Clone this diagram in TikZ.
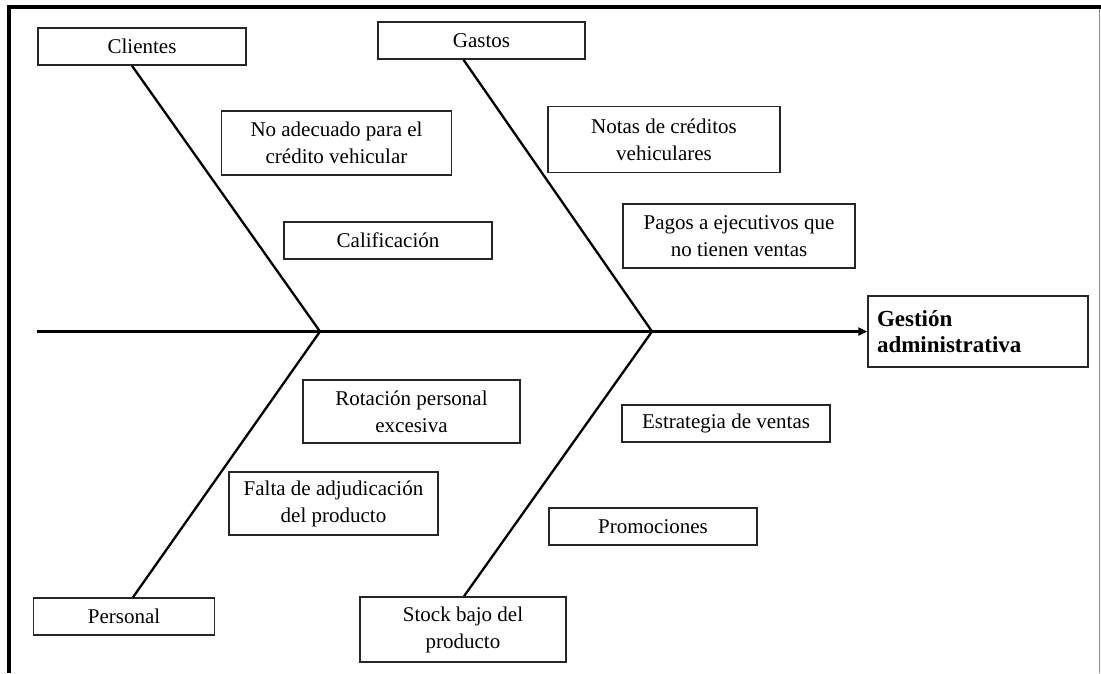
\documentclass[tikz,border=0pt]{standalone}
\usepackage{fontspec}
\setmainfont{Liberation Serif}
\usetikzlibrary{arrows.meta,calc}
\tikzset{
  causebox/.style={draw=black!85, line width=1.5pt, rectangle, align=center, inner sep=0pt,
    font=\fontsize{21}{27}\selectfont, text=black},
  bone/.style={line width=2.3pt, black},
}
\begin{document}
\begin{tikzpicture}[x=1pt,y=-1pt]
\useasboundingbox (0,0) rectangle (1101,673);
% frame
\draw[line width=4pt] (7,7) -- (1101,7);
\draw[line width=4pt] (9,7) -- (9,673);
\draw[line width=1pt, black!45] (1099.5,9) -- (1099.5,673);
% boxes
\node[causebox, minimum width=208pt, minimum height=37pt] (cli) at (142,46.5) {Clientes};
\node[causebox, minimum width=207pt, minimum height=37pt] (gas) at (481.5,40.5) {Gastos};
\node[causebox, minimum width=230pt, minimum height=64pt] (noad) at (336.5,143) {No adecuado para el\\crédito vehicular};
\node[causebox, minimum width=208pt, minimum height=37pt] (cal) at (388,240.5) {Calificación};
\node[causebox, minimum width=232pt, minimum height=66pt] (notas) at (664,139.5) {Notas de créditos\\vehiculares};
\node[causebox, minimum width=232pt, minimum height=64pt] (pagos) at (739,236) {Pagos a ejecutivos que\\no tienen ventas};
\node[draw=black!85, line width=1.5pt, rectangle, align=left, text width=202pt, inner xsep=9pt, inner ysep=0pt,
  minimum height=71pt, font=\fontsize{23}{26.5}\selectfont\bfseries] (gest) at (978,331.5) {Gestión\\administrativa};
\node[causebox, minimum width=217pt, minimum height=63pt] (rot) at (411.5,411.5) {Rotación personal\\excesiva};
\node[causebox, minimum width=209pt, minimum height=63pt] (falta) at (333.5,503.5) {Falta de adjudicación\\del producto};
\node[causebox, minimum width=208pt, minimum height=37pt] (estr) at (726,423.5) {Estrategia de ventas};
\node[causebox, minimum width=208pt, minimum height=37pt] (promo) at (653,526.5) {Promociones};
\node[causebox, minimum width=181pt, minimum height=37pt] (pers) at (124,616.5) {Personal};
\node[causebox, minimum width=206pt, minimum height=65pt] (stock) at (463,629.5) {Stock bajo del\\producto};
% spine
\coordinate (s0) at (37,331.5);
\coordinate (j1) at (320,331.5);
\coordinate (j2) at (652,331.5);
\draw[bone, -{Triangle[length=9pt,width=8pt]}] (s0) -- (gest.west);
% bones
\draw[bone] ($(cli.south)+(-10,0)$) -- (j1);
\draw[bone] ($(gas.south)+(-18,0)$) -- (j2);
\draw[bone] (j1) -- ($(pers.north)+(9,0)$);
\draw[bone] (j2) -- ($(stock.north)+(1,0)$);
\end{tikzpicture}
\end{document}
